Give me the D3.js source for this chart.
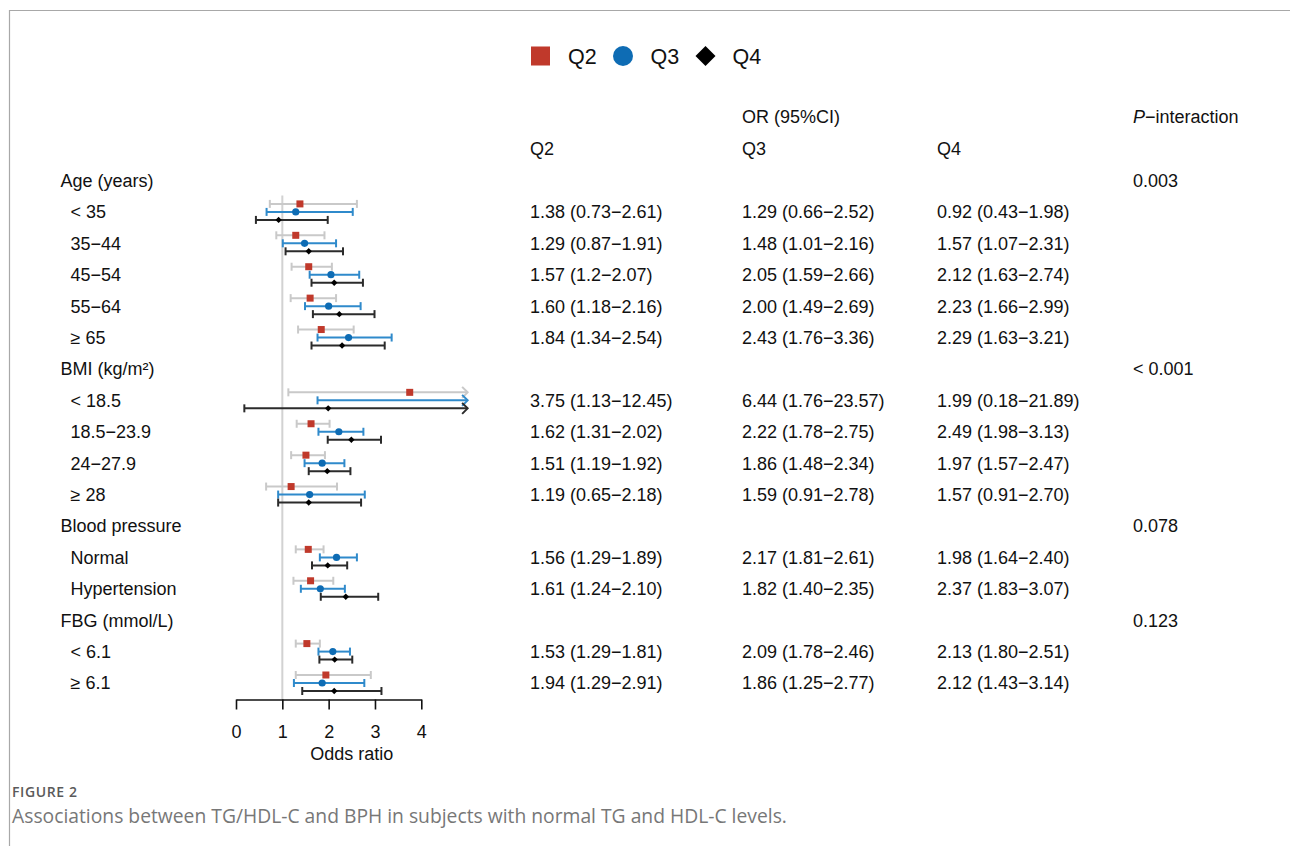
<!DOCTYPE html>
<html><head><meta charset="utf-8">
<script src="https://cdn.jsdelivr.net/npm/d3@7"></script>
<style>body{margin:0;background:#fff} svg{display:block}</style>
</head><body><svg id="c" width="1290" height="846"></svg>
<script>
// ---------- data ----------
const rowLabels = ["Age (years)", "< 35", "35\u221244", "45\u221254", "55\u221264", "\u2265 65",
  "BMI (kg/m\u00B2)", "< 18.5", "18.5\u221223.9", "24\u221227.9", "\u2265 28",
  "Blood pressure", "Normal", "Hypertension",
  "FBG (mmol/L)", "< 6.1", "\u2265 6.1"];
const rowIsGroup = [true,false,false,false,false,false, true,false,false,false,false, true,false,false, true,false,false];
const pInteraction = ["0.003","","","","","", "< 0.001","","","","", "0.078","","", "0.123","",""];

const q2OR   = ["","1.38","1.29","1.57","1.60","1.84", "","3.75","1.62","1.51","1.19", "","1.56","1.61", "","1.53","1.94"];
const q2Low  = ["","0.73","0.87","1.2", "1.18","1.34", "","1.13","1.31","1.19","0.65", "","1.29","1.24", "","1.29","1.29"];
const q2High = ["","2.61","1.91","2.07","2.16","2.54", "","12.45","2.02","1.92","2.18", "","1.89","2.10", "","1.81","2.91"];

const q3OR   = ["","1.29","1.48","2.05","2.00","2.43", "","6.44","2.22","1.86","1.59", "","2.17","1.82", "","2.09","1.86"];
const q3Low  = ["","0.66","1.01","1.59","1.49","1.76", "","1.76","1.78","1.48","0.91", "","1.81","1.40", "","1.78","1.25"];
const q3High = ["","2.52","2.16","2.66","2.69","3.36", "","23.57","2.75","2.34","2.78", "","2.61","2.35", "","2.46","2.77"];

const q4OR   = ["","0.92","1.57","2.12","2.23","2.29", "","1.99","2.49","1.97","1.57", "","1.98","2.37", "","2.13","2.12"];
const q4Low  = ["","0.43","1.07","1.63","1.66","1.63", "","0.18","1.98","1.57","0.91", "","1.64","1.83", "","1.80","1.43"];
const q4High = ["","1.98","2.31","2.74","2.99","3.21", "","21.89","3.13","2.47","2.70", "","2.40","3.07", "","2.51","3.14"];

const seriesNames = ["Q2","Q3","Q4"];
const axisTicks = [0,1,2,3,4];
const xClip = 5;
const captionTitle = "FIGURE 2";
const captionText = "Associations between TG/HDL-C and BPH in subjects with normal TG and HDL-C levels.";

// ---------- styles ----------
const series = [
  {name:"Q2", or:q2OR, lo:q2Low, hi:q2High, line:"#c9c9c9", pt:"#c0392b", shape:"square", col:530},
  {name:"Q3", or:q3OR, lo:q3Low, hi:q3High, line:"#2f8acb", pt:"#0e6cb4", shape:"circle", col:742},
  {name:"Q4", or:q4OR, lo:q4Low, hi:q4High, line:"#2b2b2b", pt:"#000000", shape:"diamond", col:937}
];
const FONT = "'Liberation Sans', Arial, Helvetica, sans-serif";
const FS = 18;

const svg = d3.select("#c");
svg.append("rect").attr("width",1290).attr("height",846).attr("fill","#fff");

// frame
svg.append("line").attr("x1",9).attr("x2",1290).attr("y1",10.5).attr("y2",10.5).attr("stroke","#a8a8a8").attr("stroke-width",1.2);
svg.append("line").attr("x1",9.5).attr("x2",9.5).attr("y1",10).attr("y2",846).attr("stroke","#a8a8a8").attr("stroke-width",1.2);

// scales
const x = d3.scaleLinear().domain([0,4]).range([236,421.3]);
const y = d3.scalePoint().domain(d3.range(rowLabels.length)).range([180.5,683]);
const off = d3.scalePoint().domain(seriesNames).range([-8,8]);
const axisY = 699.5;

// legend
const lg = svg.append("g").attr("font-family",FONT).attr("font-size",21.5);
const legX = [{s:0,mx:540.5,tx:568},{s:1,mx:623,tx:650.5},{s:2,mx:705.5,tx:732.5}];
legX.forEach(d=>{
  const s = series[d.s];
  if (s.shape==="square") lg.append("rect").attr("x",d.mx-9.5).attr("y",46.5).attr("width",19).attr("height",19).attr("fill",s.pt);
  else if (s.shape==="circle") lg.append("circle").attr("cx",d.mx).attr("cy",56).attr("r",10).attr("fill",s.pt);
  else lg.append("path").attr("d",`M${d.mx},${46} L${d.mx+10},${56} L${d.mx},${66} L${d.mx-10},${56}Z`).attr("fill",s.pt);
  lg.append("text").attr("x",d.tx).attr("y",56).attr("dy","0.36em").attr("fill","#111").text(s.name);
});

// headers
const hd = svg.append("g").attr("font-family",FONT).attr("font-size",FS).attr("fill","#111");
hd.append("text").attr("x",742).attr("y",117).attr("dy","0.36em").text("OR (95%CI)");
const pt = hd.append("text").attr("x",1133).attr("y",117).attr("dy","0.36em");
pt.append("tspan").attr("font-style","italic").text("P");
pt.append("tspan").text("\u2212interaction");
series.forEach(s=>hd.append("text").attr("x",s.col).attr("y",148.5).attr("dy","0.36em").text(s.name));

// row labels, table text, p-values
const tb = svg.append("g").attr("font-family",FONT).attr("font-size",FS).attr("fill","#111");
rowLabels.forEach((lab,i)=>{
  tb.append("text").attr("x",rowIsGroup[i]?60.5:70.5).attr("y",y(i)).attr("dy","0.36em").text(lab);
  if (pInteraction[i]) tb.append("text").attr("x",1133).attr("y",y(i)).attr("dy","0.36em").text(pInteraction[i]);
  series.forEach(s=>{
    if (s.or[i]) tb.append("text").attr("x",s.col).attr("y",y(i)).attr("dy","0.36em")
      .text(`${s.or[i]} (${s.lo[i]}\u2212${s.hi[i]})`);
  });
});

// reference line
svg.append("line").attr("x1",x(1)).attr("x2",x(1)).attr("y1",y(0)+15).attr("y2",axisY)
  .attr("stroke","#d2d2d2").attr("stroke-width",2);

// CIs and points
const pg = svg.append("g");
rowLabels.forEach((lab,i)=>{
  if (rowIsGroup[i]) return;
  series.forEach(s=>{
    const yy = y(i)+off(s.name);
    const lo = +s.lo[i], hi = +s.hi[i], or = +s.or[i];
    const clipped = hi > xClip;
    const x1 = x(lo), x2 = x(Math.min(hi,xClip));
    pg.append("line").attr("x1",x1).attr("x2",x2).attr("y1",yy).attr("y2",yy)
      .attr("stroke",s.line).attr("stroke-width",2);
    pg.append("line").attr("x1",x1).attr("x2",x1).attr("y1",yy-4).attr("y2",yy+4).attr("stroke",s.line).attr("stroke-width",2);
    if (clipped) {
      pg.append("path").attr("d",`M${x2-5.5},${yy-5.5} L${x2},${yy} L${x2-5.5},${yy+5.5}`)
        .attr("fill","none").attr("stroke",s.line).attr("stroke-width",2);
    } else {
      pg.append("line").attr("x1",x2).attr("x2",x2).attr("y1",yy-4).attr("y2",yy+4).attr("stroke",s.line).attr("stroke-width",2);
    }
    if (or > xClip) return; // point outside visible range
    const px = x(or);
    if (s.shape==="square") pg.append("rect").attr("x",px-3.5).attr("y",yy-3.5).attr("width",7).attr("height",7).attr("fill",s.pt);
    else if (s.shape==="circle") pg.append("circle").attr("cx",px).attr("cy",yy).attr("r",3.6).attr("fill",s.pt);
    else pg.append("path").attr("d",`M${px},${yy-3.2} L${px+3.2},${yy} L${px},${yy+3.2} L${px-3.2},${yy}Z`).attr("fill",s.pt);
  });
});

// axis
const ax = svg.append("g").attr("transform",`translate(0,${axisY})`)
  .call(d3.axisBottom(x).tickValues(axisTicks).tickFormat(d3.format("d")).tickSize(10).tickSizeOuter(0).tickPadding(16));
ax.select(".domain").attr("stroke","#111").attr("stroke-width",1.6);
ax.selectAll(".tick line").attr("stroke","#111").attr("stroke-width",1.6);
ax.selectAll(".tick text").attr("font-family",FONT).attr("font-size",FS).attr("fill","#111");
svg.append("text").attr("x",x(2.5)).attr("y",753.5).attr("dy","0.36em").attr("text-anchor","middle")
  .attr("font-family",FONT).attr("font-size",FS).attr("fill","#111").text("Odds ratio");

// caption
svg.append("text").attr("x",12).attr("y",792).attr("dy","0.36em").attr("font-family","'Open Sans', sans-serif")
  .attr("font-size",14).attr("font-weight",600).attr("letter-spacing",0.6).attr("fill","#5a5a5a").text(captionTitle);
svg.append("text").attr("x",12).attr("y",816).attr("dy","0.36em").attr("font-family","'Open Sans', sans-serif")
  .attr("font-size",19.3).attr("fill","#777").text(captionText);
</script></body></html>
